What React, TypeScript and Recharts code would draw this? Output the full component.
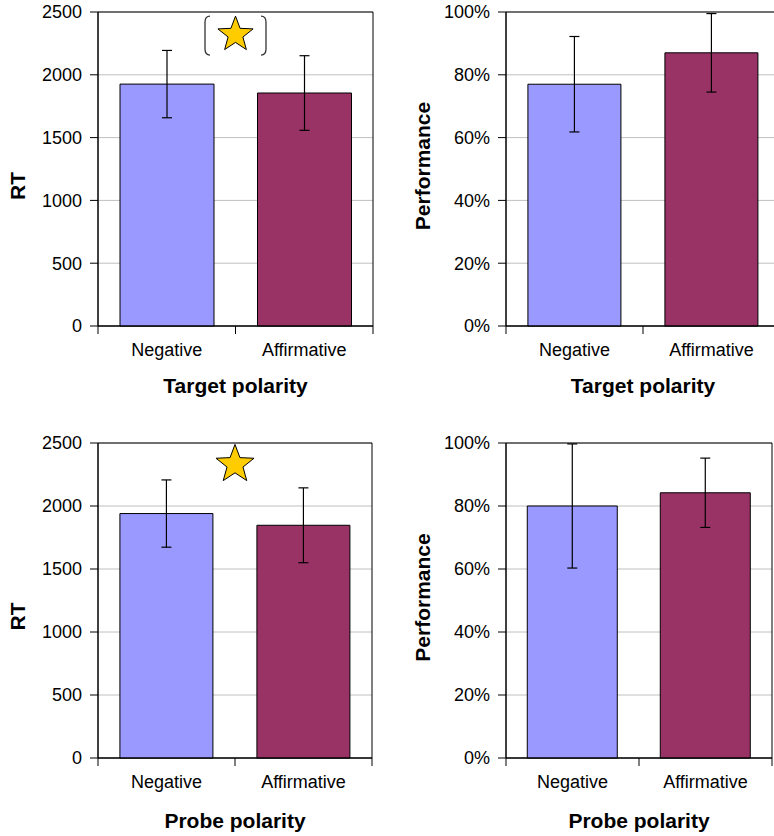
import React from 'react';
import { BarChart, Bar, XAxis, YAxis, CartesianGrid, ErrorBar, Cell, ReferenceArea, ReferenceDot } from 'recharts';

const categories = ['Negative', 'Affirmative'];
const barColors = ['#9999FF', '#993366'];

// reaction times (ms) and error bars
const targetRT = [1926, 1855];
const targetRTErr = [268, 297];
const probeRT = [1940, 1847];
const probeRTErr = [267, 297];

// performance (proportion correct) and error bars
const targetPerf = [0.77, 0.87];
const targetPerfErr = [0.152, 0.125];
const probePerf = [0.8, 0.842];
const probePerfErr = [0.197, 0.11];

const rtTicks = [0, 500, 1000, 1500, 2000, 2500];
const perfTicks = [0, 0.2, 0.4, 0.6, 0.8, 1];

// significance stars (RT panels)
const targetStarRT = 2320;
const probeStarRT = 2330;

const FONT = 'Liberation Sans, Arial, sans-serif';
const Y_AXIS_W = 60;
const X_AXIS_H = 40;

const starPoints = (cx: number, cy: number, r: number) => {
  const pts: string[] = [];
  for (let i = 0; i < 10; i++) {
    const a = ((-90 + i * 36) * Math.PI) / 180;
    const rr = i % 2 === 0 ? r : r * 0.42;
    pts.push(`${cx + rr * Math.cos(a)},${cy + rr * Math.sin(a)}`);
  }
  return pts.join(' ');
};

const makeStar = (r: number, brackets: boolean) => (props: any) => {
  const { cx, cy } = props;
  const bx = r + 12;
  const top = cy - r;
  const bot = cy + r + 2;
  return (
    <g>
      {brackets && (
        <path
          d={`M${cx - bx + 5},${top} Q${cx - bx},${top} ${cx - bx},${top + 6} L${cx - bx},${bot - 6} Q${cx - bx},${bot} ${cx - bx + 5},${bot}
              M${cx + bx - 5},${top} Q${cx + bx},${top} ${cx + bx},${top + 6} L${cx + bx},${bot - 6} Q${cx + bx},${bot} ${cx + bx - 5},${bot}`}
          fill="none"
          stroke="#333"
          strokeWidth={1.3}
        />
      )}
      <polygon points={starPoints(cx, cy, r)} fill="#FFCC00" stroke="#000" strokeWidth={1} />
    </g>
  );
};

const makeXTick = (halfBand: number) => (props: any) => {
  const { x, y, payload, index } = props;
  const last = index === categories.length - 1;
  return (
    <g>
      <line x1={x - halfBand} x2={x - halfBand} y1={y} y2={y + 8} stroke="#000" />
      {last && <line x1={x + halfBand} x2={x + halfBand} y1={y} y2={y + 8} stroke="#000" />}
      <text x={x} y={y + 30} textAnchor="middle" fontSize={18} fontFamily={FONT} fill="#000">
        {payload.value}
      </text>
    </g>
  );
};

type PanelProps = {
  left: number;
  top: number;
  width: number;
  height: number;
  margin: { top: number; right: number; bottom: number; left: number };
  values: number[];
  errors: number[];
  ticks: number[];
  pct?: boolean;
  yLabel: string;
  yLabelDx: number;
  yLabelDy: number;
  xLabel: string;
  xLabelOffset: number;
  star?: { y: number; r: number; brackets: boolean };
};

const Panel = (p: PanelProps) => {
  // pos = band centre on a 0..n numeric scale, used to place the star between the bars
  const data = categories.map((name, i) => ({ name, pos: i + 0.5, value: p.values[i], err: p.errors[i] }));
  const plotW = p.width - p.margin.left - p.margin.right - Y_AXIS_W;
  const halfBand = plotW / categories.length / 2;
  const max = p.ticks[p.ticks.length - 1];
  return (
    <div style={{ position: 'absolute', left: p.left, top: p.top }}>
      <BarChart width={p.width} height={p.height} margin={p.margin} data={data} barCategoryGap="16%">
        <CartesianGrid vertical={false} stroke="#c0c0c0" />
        <ReferenceArea y1={0} y2={max} fill="none" fillOpacity={0} stroke="#000" strokeOpacity={1} />
        <XAxis
          dataKey="name"
          height={X_AXIS_H}
          tickLine={false}
          tickSize={0}
          tickMargin={0}
          axisLine={{ stroke: '#000' }}
          tick={makeXTick(halfBand)}
          label={{ value: p.xLabel, position: 'bottom', offset: p.xLabelOffset, fontSize: 21, fontWeight: 'bold', fill: '#000', fontFamily: FONT }}
        />
        <XAxis xAxisId="mid" dataKey="pos" type="number" domain={[0, categories.length]} allowDataOverflow hide />
        <YAxis
          width={Y_AXIS_W}
          domain={[0, max]}
          ticks={p.ticks}
          interval={0}
          tickSize={8}
          tickMargin={8}
          axisLine={{ stroke: '#000' }}
          tickLine={{ stroke: '#000' }}
          tickFormatter={(v: number) => (p.pct ? `${Math.round(v * 100)}%` : `${v}`)}
          tick={{ fill: '#000', fontSize: 18, fontFamily: FONT }}
          label={{ value: p.yLabel, angle: -90, position: 'center', dx: p.yLabelDx, dy: p.yLabelDy, fontSize: 21, fontWeight: 'bold', fill: '#000', fontFamily: FONT }}
        />
        <Bar dataKey="value" isAnimationActive={false} stroke="#000" strokeWidth={1}>
          {data.map((d, i) => (
            <Cell key={d.name} fill={barColors[i]} />
          ))}
          <ErrorBar dataKey="err" direction="y" width={5} stroke="#000" strokeWidth={1.2} />
        </Bar>
        {p.star && (
          <ReferenceDot
            xAxisId="mid"
            x={categories.length / 2}
            y={p.star.y}
            r={p.star.r}
            shape={makeStar(p.star.r, p.star.brackets)}
          />
        )}
      </BarChart>
    </div>
  );
};

const App = () => {
  return (
    <div style={{ position: 'absolute', left: 0, top: 0, width: 774, height: 836, overflow: 'hidden', background: '#fff' }}>
      <Panel
        left={0}
        top={0}
        width={387}
        height={410}
        margin={{ top: 12, right: 14, left: 38, bottom: 44 }}
        values={targetRT}
        errors={targetRTErr}
        ticks={rtTicks}
        yLabel="RT"
        yLabelDx={-50}
        yLabelDy={17}
        xLabel="Target polarity"
        xLabelOffset={12}
        star={{ y: targetStarRT, r: 18.5, brackets: true }}
      />
      <Panel
        left={390}
        top={0}
        width={400}
        height={410}
        margin={{ top: 12, right: 10, left: 56, bottom: 44 }}
        values={targetPerf}
        errors={targetPerfErr}
        ticks={perfTicks}
        pct
        yLabel="Performance"
        yLabelDx={-53}
        yLabelDy={-3}
        xLabel="Target polarity"
        xLabelOffset={12}
      />
      <Panel
        left={0}
        top={420}
        width={387}
        height={416}
        margin={{ top: 23, right: 15, left: 38, bottom: 38 }}
        values={probeRT}
        errors={probeRTErr}
        ticks={rtTicks}
        yLabel="RT"
        yLabelDx={-50}
        yLabelDy={16}
        xLabel="Probe polarity"
        xLabelOffset={15}
        star={{ y: probeStarRT, r: 20, brackets: false }}
      />
      <Panel
        left={390}
        top={420}
        width={384}
        height={416}
        margin={{ top: 23, right: 2, left: 56, bottom: 38 }}
        values={probePerf}
        errors={probePerfErr}
        ticks={perfTicks}
        pct
        yLabel="Performance"
        yLabelDx={-53}
        yLabelDy={-3}
        xLabel="Probe polarity"
        xLabelOffset={15}
      />
    </div>
  );
};

export default App;
